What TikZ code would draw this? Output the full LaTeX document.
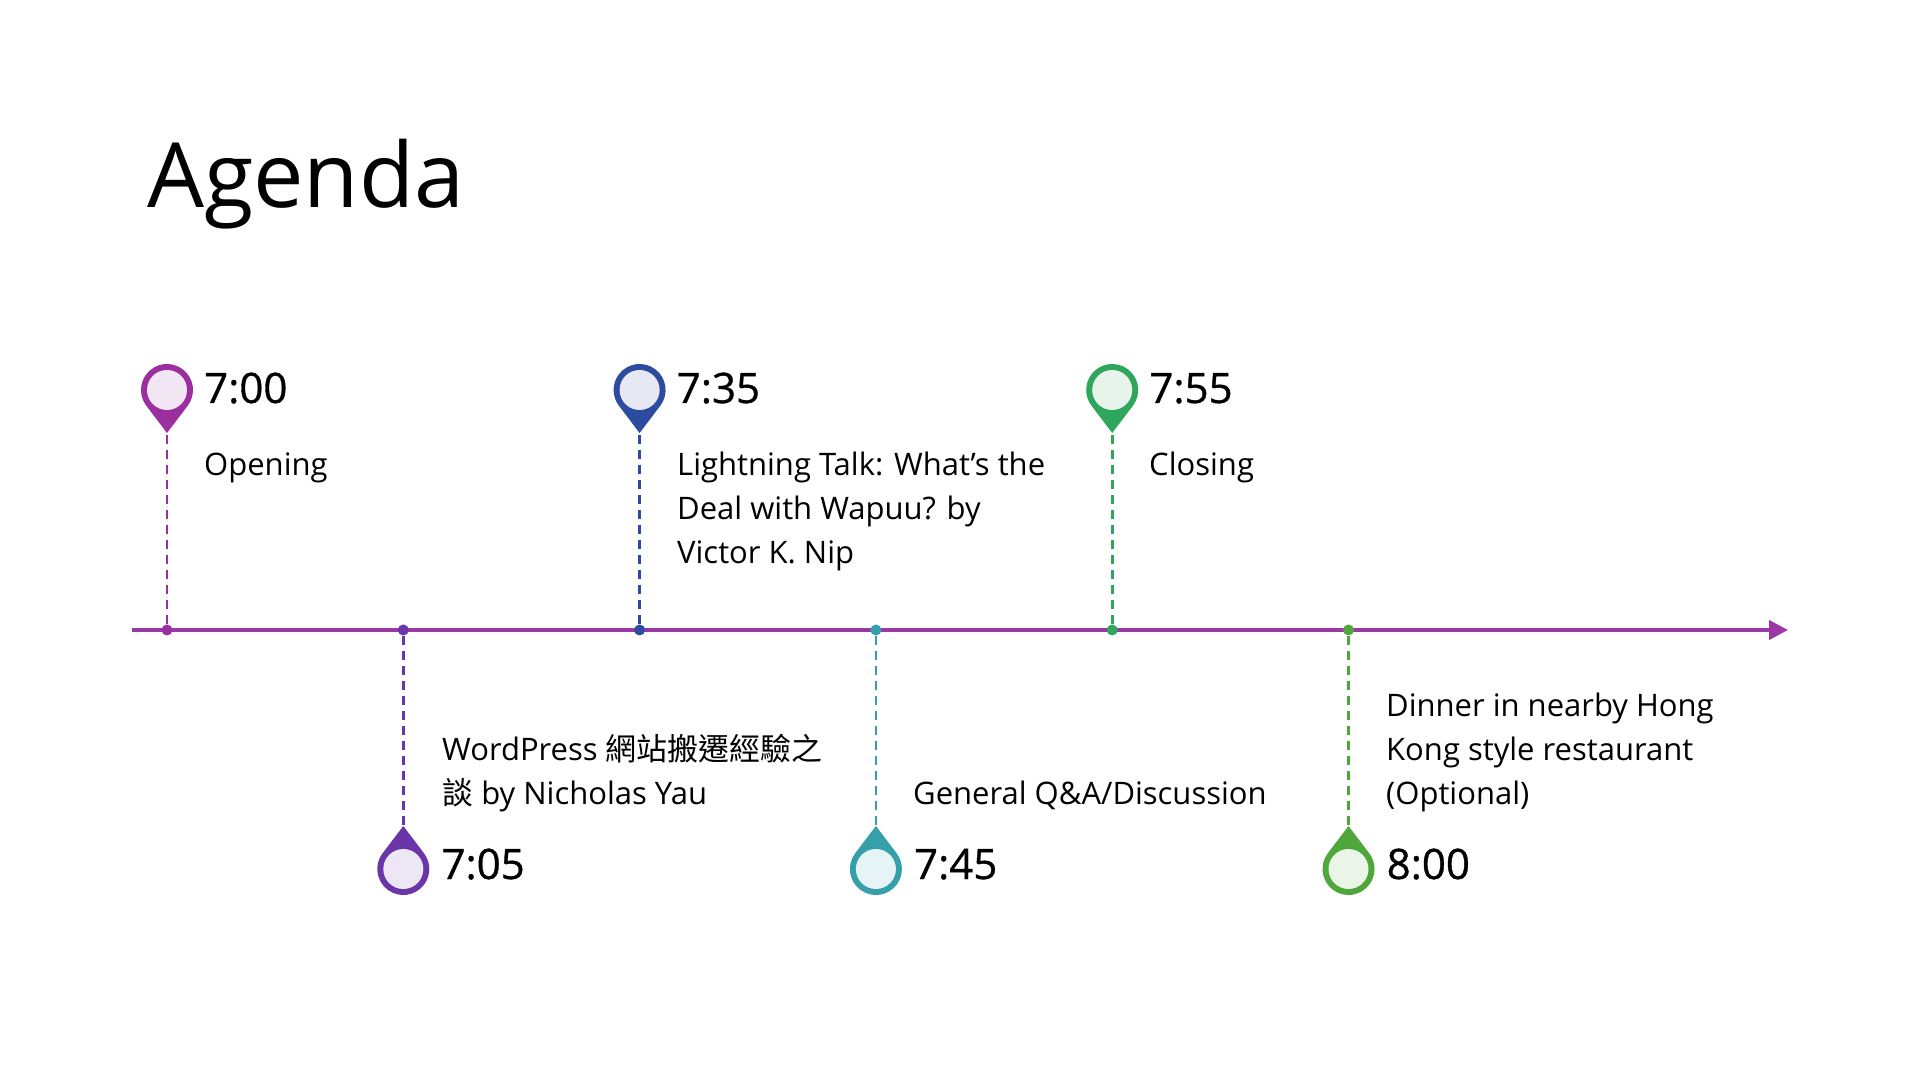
\documentclass[tikz,border=0pt]{standalone}
\usepackage{fontspec}
\setmainfont{Open Sans}
\newfontfamily\cjk{Noto Sans CJK TC}
\usepackage{tikz}
\usetikzlibrary{arrows.meta, positioning, calc}
\definecolor{linemagenta}{RGB}{155, 56, 165}
\definecolor{pinmagenta}{RGB}{155, 47, 159}
\definecolor{pinviolet}{RGB}{106, 53, 168}
\definecolor{pinblue}{RGB}{46, 75, 162}
\definecolor{pinteal}{RGB}{53, 160, 170}
\definecolor{pingreen}{RGB}{46, 166, 92}
\definecolor{pinlime}{RGB}{79, 166, 58}
\tikzset{
  titlenode/.style={
    anchor=base west, inner sep=0pt,
    font=\fontsize{90}{100}\selectfont
  },
  timenode/.style={
    anchor=base west, inner sep=0pt,
    font=\fontsize{42}{50}\selectfont\addfontfeature{FakeBold=0.8}
  },
  topicnode/.style={
    anchor=base west, inner sep=0pt, align=left,
    font=\fontsize{31}{44}\selectfont
  },
  tickdot/.style={
    circle, inner sep=0pt, minimum size=11pt
  },
  timeline/.style={line width=4pt, draw=linemagenta,
    -{Triangle[length=19pt,width=19pt]}},
  stem/.style={line width=2.8pt, dash pattern=on 9pt off 6pt}
}
% pin: centre, direction of the tip, ring colour
\newcommand{\pinmark}[3]{%
  \fill[#3] ($(#1)+(#2:43)$) -- ($(#1)+(#2+53:26)$)
    arc[start angle=#2+53, end angle=#2+307, radius=26] -- cycle;
  \fill[#3!12] (#1) circle[radius=20];
}

\begin{document}
\begin{tikzpicture}[x=1pt, y=1pt]
  \fill[white] (0,0) rectangle (1920,1080);
  \useasboundingbox (0,0) rectangle (1920,1080);

  %% — — — Title — — —
  \node[titlenode] (title) at (147,872) {Agenda};

  %% — — — Timeline — — —
  \coordinate (start) at (132,450);
  \coordinate (end)   at (1788,450);
  \draw[timeline] (start) -- (end);

  \node[tickdot, fill=pinmagenta] (d700) at (167,450)    {};
  \node[tickdot, fill=pinviolet]  (d705) at (403.3,450)  {};
  \node[tickdot, fill=pinblue]    (d735) at (639.6,450)  {};
  \node[tickdot, fill=pinteal]    (d745) at (875.9,450)  {};
  \node[tickdot, fill=pingreen]   (d755) at (1112.2,450) {};
  \node[tickdot, fill=pinlime]    (d800) at (1348.5,450) {};

  %% — — — Pins — — —
  \coordinate (p700) at (167,690);
  \coordinate (p705) at (403.3,211);
  \coordinate (p735) at (639.6,690);
  \coordinate (p745) at (875.9,211);
  \coordinate (p755) at (1112.2,690);
  \coordinate (p800) at (1348.5,211);

  \coordinate (tip700) at ($(p700)+(0,-43)$);
  \coordinate (tip705) at ($(p705)+(0,43)$);
  \coordinate (tip735) at ($(p735)+(0,-43)$);
  \coordinate (tip745) at ($(p745)+(0,43)$);
  \coordinate (tip755) at ($(p755)+(0,-43)$);
  \coordinate (tip800) at ($(p800)+(0,43)$);

  \draw[stem, pinmagenta] (d700) -- (tip700);
  \draw[stem, pinviolet]  (d705) -- (tip705);
  \draw[stem, pinblue]    (d735) -- (tip735);
  \draw[stem, pinteal]    (d745) -- (tip745);
  \draw[stem, pingreen]   (d755) -- (tip755);
  \draw[stem, pinlime]    (d800) -- (tip800);

  \pinmark{p700}{-90}{pinmagenta}
  \pinmark{p705}{90}{pinviolet}
  \pinmark{p735}{-90}{pinblue}
  \pinmark{p745}{90}{pinteal}
  \pinmark{p755}{-90}{pingreen}
  \pinmark{p800}{90}{pinlime}

  %% — — — Times — — —
  \node[timenode] (t700) at ($(p700)+(37,-13)$) {7:00};
  \node[timenode] (t705) at ($(p705)+(38,-10)$) {7:05};
  \node[timenode] (t735) at ($(p735)+(37,-13)$) {7:35};
  \node[timenode] (t745) at ($(p745)+(38,-10)$) {7:45};
  \node[timenode] (t755) at ($(p755)+(37,-13)$) {7:55};
  \node[timenode] (t800) at ($(p800)+(38,-10)$) {8:00};

  %% — — — Topics (base = last line) — — —
  \node[topicnode] (o700) at (204,604) {Opening};
  \node[topicnode] (o705) at (442,276)
    {WordPress {\cjk 網站搬遷經驗之}\\{\cjk 談} by Nicholas Yau};
  \node[topicnode] (o735) at (677,516)
    {Lightning Talk: What’s the\\Deal with Wapuu? by\\Victor K. Nip};
  \node[topicnode] (o745) at (913,276) {General Q\&A/Discussion};
  \node[topicnode] (o755) at (1149,604) {Closing};
  \node[topicnode] (o800) at (1386,276)
    {Dinner in nearby Hong\\Kong style restaurant\\(Optional)};

\end{tikzpicture}
\end{document}
